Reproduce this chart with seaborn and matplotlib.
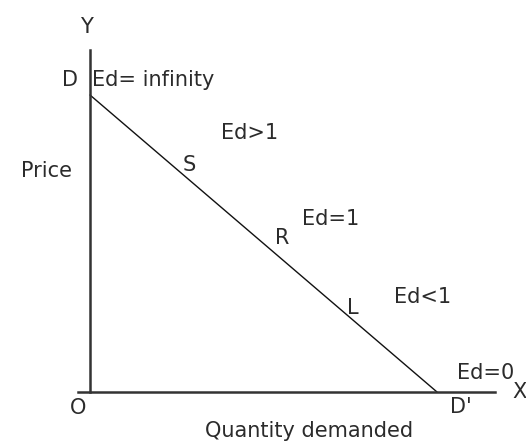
import matplotlib
matplotlib.use("Agg")
import matplotlib.pyplot as plt
import seaborn as sns
import pandas as pd

# Straight-line demand curve from D (on the price axis) to D' (on the quantity axis)
quantity = [0, 10]
price = [10, 0]

# Point labels along the curve and the elasticity zones
point_labels = ["S", "R", "L"]
zone_labels = ["Ed= infinity", "Ed>1", "Ed=1", "Ed<1", "Ed=0"]
axis_labels = ["Price", "Quantity demanded"]

sns.set_theme(style="white")
plt.rcParams["font.family"] = ["DejaVu Sans"]

fig = plt.figure(figsize=(5.26, 4.45), dpi=100)
ax = fig.add_axes([0, 0, 1, 1])

df = pd.DataFrame({"q": quantity, "p": price})
sns.lineplot(data=df, x="q", y="p", ax=ax, color="#111111", linewidth=1.0)

ax.set_xlim(-2.594, 12.565)
ax.set_ylim(-1.785, 13.199)
ax.set_xticks([])
ax.set_yticks([])
ax.set_xlabel("")
ax.set_ylabel("")

# Axes drawn as spines crossing at the origin
for side in ("top", "right"):
    ax.spines[side].set_visible(False)
ax.spines["left"].set_position(("data", 0))
ax.spines["bottom"].set_position(("data", 0))
ax.spines["left"].set_bounds(0, 11.5)
ax.spines["bottom"].set_bounds(-0.35, 11.67)
for side in ("left", "bottom"):
    ax.spines[side].set_color("#333333")
    ax.spines[side].set_linewidth(1.8)

tc = "#2b2b2b"
fs = 15

def label(x, y, s, ha="center"):
    ax.text(x, y, s, ha=ha, va="center", fontsize=fs, color=tc)

label(-0.11, 12.3, "Y")
label(-0.576, 10.5, "D")
label(0.06, 10.5, zone_labels[0], ha="left")
label(4.61, 8.72, zone_labels[1])
label(2.853, 7.64, point_labels[0])
label(-1.268, 7.44, axis_labels[0])
label(6.945, 5.82, zone_labels[2])
label(5.533, 5.19, point_labels[1])
label(9.57, 3.2, zone_labels[3])
label(7.579, 2.83, point_labels[2])
label(10.58, 0.64, zone_labels[4], ha="left")
label(12.16, 0.0, "X", ha="left")
label(-0.346, -0.54, "O")
label(10.69, -0.5, "D'")
label(6.311, -1.31, axis_labels[1])

fig.savefig("out.png", dpi=100, facecolor="white")
